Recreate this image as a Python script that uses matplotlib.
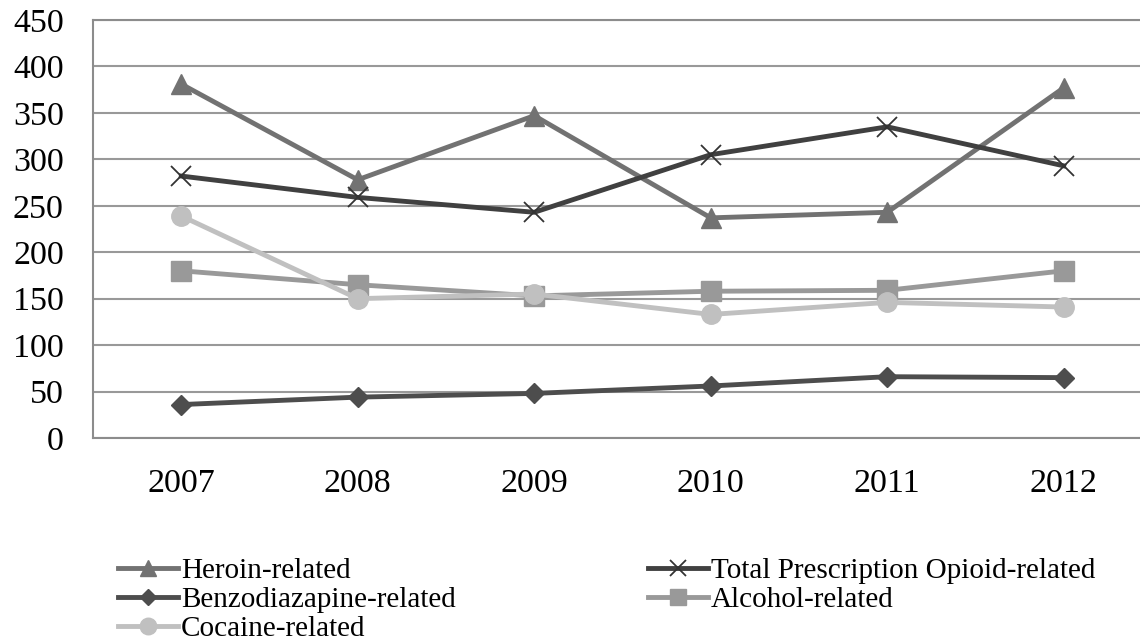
import matplotlib
matplotlib.use("Agg")
import matplotlib.pyplot as plt

years = ["2007", "2008", "2009", "2010", "2011", "2012"]
heroin = [381, 278, 347, 237, 243, 377]
opioid = [282, 259, 243, 305, 335, 293]
benzo = [36, 44, 48, 56, 66, 65]
alcohol = [180, 165, 153, 158, 159, 180]
cocaine = [239, 150, 155, 133, 146, 141]
yticks = [0, 50, 100, 150, 200, 250, 300, 350, 400, 450]

plt.rcParams['font.family'] = ['Liberation Serif', 'DejaVu Serif']

fig = plt.figure(figsize=(11.4, 6.41), dpi=100)
ax = fig.add_axes([93/1140, 1-438/641, 1059/1140, 418/641])

x = list(range(len(years)))
series = [
    ("Heroin-related", heroin, "#727272", "^", 14),
    ("Total Prescription Opioid-related", opioid, "#404040", "x", 14),
    ("Benzodiazapine-related", benzo, "#4d4d4d", "D", 10),
    ("Alcohol-related", alcohol, "#999999", "s", 14),
    ("Cocaine-related", cocaine, "#c0c0c0", "o", 14),
]
handles = []
for label, vals, col, mk, ms in series:
    if mk == "x":
        h, = ax.plot(x, vals, color=col, lw=3.5, marker=mk, ms=ms, mew=1.3,
                     mec="#333333", label=label, zorder=3)
    else:
        h, = ax.plot(x, vals, color=col, lw=3.5, marker=mk, ms=ms, mec=col,
                     label=label, zorder=3)
    handles.append(h)

ax.set_xlim(-0.5, len(years) - 0.5)
ax.set_ylim(0, 450)
ax.set_yticks(yticks)
ax.set_xticks(x)
ax.set_xticklabels(years)
ax.yaxis.grid(True, color="#999999", lw=1.5)
ax.set_axisbelow(True)
for s in ax.spines.values():
    s.set_color("#8c8c8c")
    s.set_linewidth(1.5)
ax.tick_params(axis="both", length=0, labelsize=24.5, colors="black")
ax.tick_params(axis="y", pad=21)
ax.tick_params(axis="x", pad=22)

# row-wise order in a 2-column legend (matplotlib fills column-wise)
order = [handles[0], handles[2], handles[4], handles[1], handles[3]]
leg = fig.legend(order, [h.get_label() for h in order], ncol=2,
                 loc="upper left", bbox_to_anchor=(118/1140, 1-558/641),
                 frameon=False, fontsize=21, handlelength=2.05,
                 handletextpad=0.1, columnspacing=6.6, labelspacing=0.08,
                 borderpad=0, borderaxespad=0, markerscale=0.85)

fig.savefig("out.png", dpi=100)
